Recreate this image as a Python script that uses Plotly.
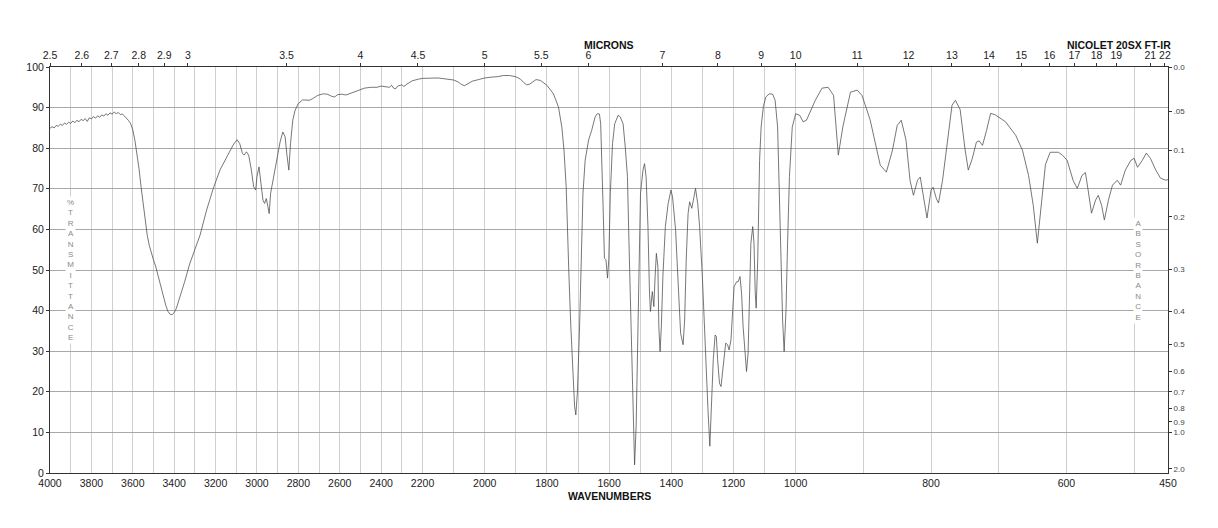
import numpy as np
import plotly.graph_objects as go

# ---------------- data ----------------
wavenumber = [
    4000, 3990, 3980, 3970, 3960, 3950, 3940, 3930, 3920, 3910, 3900, 3890, 3880, 3870, 3860,
    3850, 3840, 3830, 3820, 3810, 3800, 3790, 3780, 3770, 3760, 3750, 3740, 3730, 3720, 3710,
    3700, 3690, 3680, 3670, 3660, 3650, 3640, 3630, 3620, 3610, 3600, 3590, 3580, 3570, 3560,
    3550, 3540, 3530, 3520, 3510, 3500, 3490, 3480, 3470, 3460, 3450, 3440, 3430, 3420, 3410,
    3400, 3390, 3380, 3370, 3350, 3325, 3300, 3275, 3243, 3211, 3179, 3147, 3115, 3096, 3083,
    3070, 3062, 3051, 3040, 3027, 3016, 3006, 3000, 2990, 2982, 2971, 2963, 2955, 2947, 2941,
    2934, 2926, 2915, 2899, 2888, 2875, 2864, 2856, 2846, 2838, 2827, 2816, 2800, 2779, 2763,
    2747, 2731, 2707, 2680, 2660, 2640, 2625, 2610, 2590, 2570, 2550, 2520, 2500, 2480, 2450,
    2420, 2400, 2380, 2360, 2350, 2340, 2330, 2320, 2300, 2290, 2275, 2250, 2220, 2200, 2150,
    2120, 2100, 2085, 2075, 2065, 2055, 2040, 2020, 2000, 1980, 1960, 1940, 1920, 1900, 1885,
    1875, 1865, 1855, 1845, 1835, 1821, 1800, 1779, 1763, 1752, 1745, 1738, 1733, 1729, 1723,
    1717, 1711, 1707, 1702, 1695, 1689, 1684, 1677, 1666, 1656, 1645, 1638, 1631, 1627, 1623,
    1619, 1615, 1610, 1605, 1601, 1596, 1589, 1582, 1571, 1564, 1555, 1548, 1541, 1536, 1530,
    1525, 1520, 1518, 1513, 1508, 1504, 1499, 1491, 1486, 1481, 1475, 1470, 1467, 1461, 1456,
    1452, 1448, 1443, 1440, 1436, 1432, 1427, 1419, 1410, 1401, 1396, 1386, 1380, 1375, 1370,
    1362, 1357, 1352, 1346, 1341, 1334, 1329, 1322, 1315, 1309, 1300, 1294, 1287, 1282, 1276,
    1271, 1265, 1259, 1255, 1251, 1245, 1240, 1234, 1229, 1225, 1219, 1214, 1208, 1203, 1198,
    1190, 1185, 1179, 1174, 1169, 1162, 1158, 1153, 1149, 1144, 1138, 1134, 1130, 1127, 1122,
    1116, 1111, 1104, 1096, 1085, 1074, 1066, 1058, 1053, 1047, 1042, 1037, 1031, 1026, 1020,
    1011, 1000, 994, 989, 984, 971, 961, 952, 944, 937, 930, 919, 909, 902, 890,
    875, 866, 857, 850, 844, 837, 831, 826, 820, 816, 811, 806, 800, 797, 792,
    789, 783, 776, 769, 764, 757, 750, 745, 739, 733, 729, 724, 718, 712, 705,
    690, 675, 665, 656, 649, 643, 637, 631, 624, 612, 606, 599, 590, 584, 577,
    572, 568, 563, 557, 553, 548, 544, 538, 532, 525, 520, 513, 505, 500, 495,
    488, 482, 476, 468, 461, 453, 450,
]
transmittance = [
    84.9, 85.3, 85.0, 85.6, 85.4, 85.9, 85.6, 86.2, 85.9, 86.4, 86.1, 86.7, 86.3, 86.9, 86.5,
    87.1, 86.8, 87.3, 86.6, 87.5, 87.2, 87.8, 87.4, 88.0, 87.6, 88.2, 87.9, 88.5, 88.1, 88.7,
    88.4, 88.9, 88.5, 88.8, 88.3, 88.4, 87.9, 87.4, 86.8, 86.0, 84.5, 82.0, 79.0, 75.0, 70.5,
    66.0, 62.0, 58.5, 56.0, 54.0, 52.5, 51.0, 49.0, 47.0, 45.0, 43.0, 41.2, 39.8, 39.1, 39.0,
    39.5, 40.5, 42.0, 43.5, 47.0, 51.5, 55.0, 58.6, 64.8, 70.1, 74.6, 77.9, 80.8, 82.1, 81.1,
    78.7, 78.3, 79.1, 78.3, 74.6, 70.5, 69.7, 73.0, 75.4, 72.1, 67.2, 66.4, 67.6, 65.6, 63.9,
    68.9, 71.0, 73.8, 77.9, 81.6, 84.0, 82.8, 78.7, 74.6, 81.1, 86.9, 89.3, 91.0, 91.9, 91.9,
    91.8, 92.2, 93.0, 93.4, 93.3, 92.8, 92.6, 93.2, 93.3, 93.1, 93.5, 94.2, 94.5, 94.8, 95.0,
    95.0, 95.3, 95.2, 95.0, 95.5, 94.8, 94.6, 95.3, 95.6, 95.2, 95.8, 96.6, 97.0, 97.2, 97.3,
    97.0, 96.8, 96.3, 95.7, 95.4, 95.8, 96.5, 96.9, 97.3, 97.5, 97.6, 97.9, 97.9, 97.6, 97.0,
    96.2, 95.6, 95.8, 96.3, 96.9, 96.7, 95.5, 93.4, 90.2, 85.2, 79.5, 70.5, 60.7, 48.4, 36.0,
    23.8, 16.4, 14.3, 19.7, 36.0, 52.5, 68.9, 77.0, 82.0, 84.4, 87.7, 88.5, 88.4, 86.0, 77.0,
    64.8, 52.9, 52.5, 48.0, 52.5, 68.9, 81.1, 86.0, 88.1, 87.7, 86.0, 80.3, 73.0, 56.6, 36.0,
    19.7, 7.4, 2.0, 11.5, 36.0, 52.5, 68.9, 74.6, 76.2, 73.0, 60.7, 44.3, 39.8, 44.7, 41.0,
    48.4, 54.1, 50.8, 36.0, 29.9, 36.0, 48.4, 60.7, 66.4, 69.7, 68.0, 59.8, 50.0, 40.2, 34.4,
    31.6, 37.7, 52.5, 63.9, 66.8, 65.2, 67.2, 70.1, 66.4, 60.7, 48.4, 36.0, 25.4, 15.6, 6.6,
    15.6, 27.9, 34.0, 33.6, 27.9, 22.1, 21.3, 26.2, 30.3, 32.0, 31.6, 30.3, 32.8, 39.3, 45.9,
    47.1, 47.1, 48.4, 44.3, 36.0, 27.9, 25.0, 29.5, 44.3, 56.6, 60.7, 56.6, 44.3, 40.6, 52.5,
    77.0, 85.2, 90.2, 92.6, 93.4, 93.3, 91.8, 85.2, 68.9, 52.5, 37.7, 29.9, 40.2, 56.6, 73.0,
    85.2, 88.5, 88.1, 86.5, 86.9, 91.8, 94.8, 95.0, 93.0, 78.3, 85.5, 93.8, 94.3, 93.0, 87.0,
    75.8, 74.1, 79.5, 85.6, 86.9, 82.0, 72.0, 68.4, 72.1, 72.9, 68.0, 62.8, 69.7, 70.4, 67.5,
    66.5, 72.1, 82.0, 90.6, 91.8, 89.5, 80.0, 74.6, 77.5, 81.5, 81.8, 80.7, 84.4, 88.6, 88.2,
    86.5, 83.2, 79.5, 73.3, 65.9, 56.6, 66.0, 76.0, 79.0, 79.0, 78.3, 77.0, 72.0, 70.1, 73.3,
    74.0, 69.7, 64.0, 67.2, 68.4, 65.9, 62.3, 67.2, 70.9, 72.1, 70.9, 74.6, 77.0, 77.5, 75.3,
    77.0, 78.8, 77.5, 74.6, 72.6, 72.1, 72.3,
]

micron_ticks = [2.5, 2.6, 2.7, 2.8, 2.9, 3, 3.5, 4, 4.5, 5, 5.5, 6, 7, 8, 9, 10,
                11, 12, 13, 14, 15, 16, 17, 18, 19, 21, 22]
micron_labels = ["2.5", "2.6", "2.7", "2.8", "2.9", "3", "3.5", "4", "4.5", "5", "5.5", "6",
                 "7", "8", "9", "10", "11", "12", "13", "14", "15", "16", "17", "18", "19",
                 "21", "22"]
wn_labelled = [4000, 3800, 3600, 3400, 3200, 3000, 2800, 2600, 2400, 2200, 2000,
               1800, 1600, 1400, 1200, 1000, 800, 600, 450]
absorbance_ticks = [0.0, 0.05, 0.1, 0.2, 0.3, 0.4, 0.5, 0.6, 0.7, 0.8, 0.9, 1.0, 2.0]
absorbance_labels = ["0.0", ".05", "0.1", "0.2", "0.3", "0.4", "0.5", "0.6", "0.7",
                     "0.8", "0.9", "1.0", "2.0"]
transmittance_ticks = list(range(0, 101, 10))


# ---------------- piecewise-linear wavenumber scale (as printed on the chart) ----------------
def wn_scale(wn):
    wn = np.asarray(wn, dtype=float)
    return np.where(
        wn >= 2200, (4000 - wn) * 0.20678,
        np.where(wn >= 1000, 372.2 + (2200 - wn) * 0.31067,
                 745.0 + (1000 - wn) * 0.6764))


X0, X1 = float(wn_scale(4000)), float(wn_scale(450))

grid_wn = list(range(4000, 449, -100)) + [450]
grid_text = [str(w) if w in wn_labelled else "" for w in grid_wn]

FONT = "Liberation Sans, Arial, Helvetica, sans-serif"

fig = go.Figure()
fig.add_trace(go.Scatter(
    x=wn_scale(wavenumber), y=transmittance, mode="lines",
    line=dict(color="#4a4a4a", width=0.75), showlegend=False, hoverinfo="skip"))
# invisible trace to activate the secondary axes
fig.add_trace(go.Scatter(x=[X0], y=[50], xaxis="x2", yaxis="y2", mode="markers",
                         marker=dict(opacity=0), showlegend=False, hoverinfo="skip"))

fig.update_layout(
    width=1218, height=528,
    margin=dict(l=50, r=50, t=67, b=55),
    paper_bgcolor="white", plot_bgcolor="white",
    font=dict(family=FONT, size=10, color="#222"),
    xaxis=dict(range=[X0, X1], tickmode="array",
               tickvals=list(wn_scale(grid_wn)), ticktext=grid_text,
               showgrid=True, gridcolor="#cfcfcf", gridwidth=1,
               showline=True, linecolor="#333", linewidth=1,
               ticks="", zeroline=False, tickfont=dict(size=10.5)),
    xaxis2=dict(range=[X0, X1], overlaying="x", side="top", tickmode="array",
                tickvals=list(wn_scale([10000.0 / m for m in micron_ticks])),
                ticktext=micron_labels, showgrid=False,
                showline=True, linecolor="#333", linewidth=1,
                ticks="outside", ticklen=3, tickcolor="#333",
                zeroline=False, tickfont=dict(size=10.5)),
    yaxis=dict(range=[0, 100], tickmode="array", tickvals=transmittance_ticks,
               showgrid=True, gridcolor="#a8a8a8", gridwidth=1,
               showline=True, linecolor="#333", linewidth=1,
               ticks="outside", ticklen=3, tickcolor="#333",
               zeroline=False, tickfont=dict(size=10.5)),
    yaxis2=dict(range=[0, 100], overlaying="y", side="right", tickmode="array",
                tickvals=[100 * 10 ** (-a) for a in absorbance_ticks],
                ticktext=absorbance_labels, showgrid=False,
                showline=True, linecolor="#333", linewidth=1,
                ticks="outside", ticklen=3, tickcolor="#333",
                zeroline=False, tickfont=dict(size=8, color="#444")),
    annotations=[
        dict(text="<b>MICRONS</b>", xref="paper", yref="paper", x=0.5, y=1.054,
             xanchor="center", yanchor="middle", showarrow=False,
             font=dict(size=10.5, color="#111")),
        dict(text="<b>NICOLET 20SX FT-IR</b>", xref="paper", yref="paper", x=1.0045, y=1.054,
             xanchor="right", yanchor="middle", showarrow=False,
             font=dict(size=10.5, color="#111")),
        dict(text="<b>WAVENUMBERS</b>", xref="paper", yref="paper", x=0.5, y=-0.057,
             xanchor="center", yanchor="middle", showarrow=False,
             font=dict(size=10.5, color="#111")),
        dict(text="<br>".join("%TRANSMITTANCE"), xref="x", yref="y",
             x=float(wn_scale(3900)), y=50, xanchor="center", yanchor="middle",
             showarrow=False, bgcolor="white", borderpad=1,
             font=dict(size=8, color="#8a8a8a")),
        dict(text="<br>".join("ABSORBANCE"), xref="x", yref="y",
             x=float(wn_scale(495)) + 0.5, y=50, xanchor="center", yanchor="middle",
             showarrow=False, bgcolor="white", borderpad=1,
             font=dict(size=8, color="#8a8a8a")),
    ],
)

fig.write_html("out.html")
